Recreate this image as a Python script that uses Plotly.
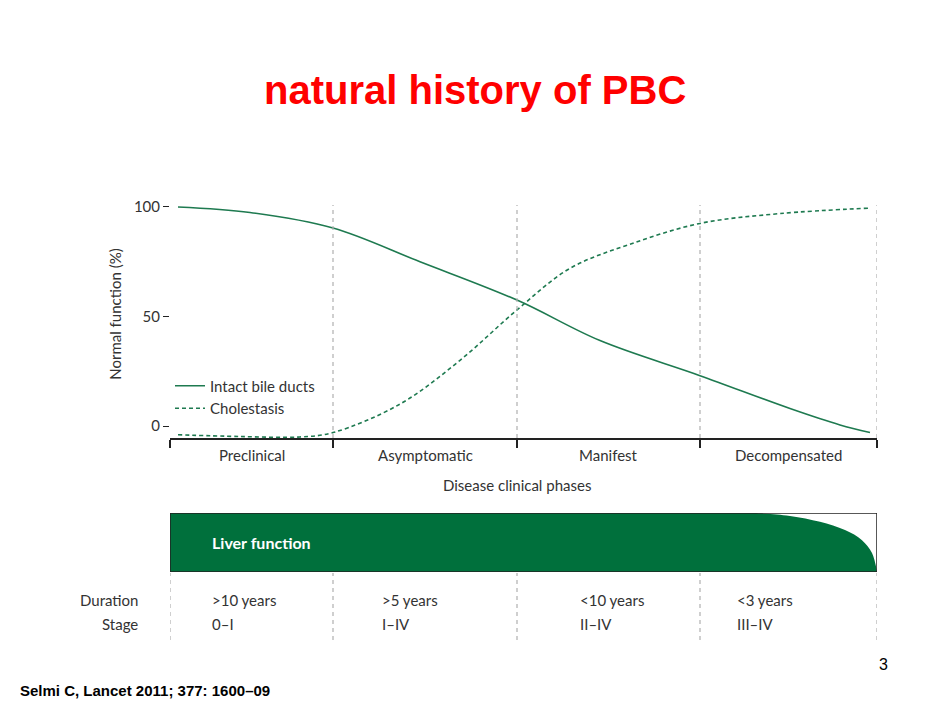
import plotly.graph_objects as go

phases = ["Preclinical", "Asymptomatic", "Manifest", "Decompensated"]
bounds = [0, 163, 347, 530, 707]
durations = [">10 years", ">5 years", "<10 years", "<3 years"]
stages = ["0–I", "I–IV", "II–IV", "III–IV"]
label_x = [40, 210, 408, 565]

intact_x = [8, 80, 163, 250, 347, 430, 530, 620, 670, 700]
intact_y = [100, 97.5, 90.4, 75, 57.5, 39, 23, 8, 0.5, -3]
chol_x = [8, 70, 130, 163, 230, 290, 347, 400, 460, 530, 610, 700]
chol_y = [-4, -4.8, -5, -3, 10, 30, 53, 72, 83, 92.5, 97, 99.5]
liver_x = [0, 583, 620, 650, 675, 692, 702, 707]
liver_y = [1, 1, 0.95, 0.85, 0.71, 0.54, 0.32, 0]

green = "#1e7a50"
dark = "#333333"
F = "Lato"
H = 382.0
OFF = 8  # page body margin

def py(p):
    return (572 - p) / H

def px(x):
    return (x - 170) / 707.0

fig = go.Figure()
fig.add_trace(go.Scatter(x=intact_x, y=intact_y, mode="lines", line=dict(color=green, width=1.6, shape="spline"),
                         name="Intact bile ducts", xaxis="x", yaxis="y"))
fig.add_trace(go.Scatter(x=chol_x, y=chol_y, mode="lines", line=dict(color=green, width=1.6, dash="4px,3px", shape="spline"),
                         name="Cholestasis", xaxis="x", yaxis="y"))
fig.add_trace(go.Scatter(x=liver_x, y=liver_y, mode="lines", fill="tozeroy", fillcolor="#00703c",
                         line=dict(color="#00703c", width=0, shape="spline"), showlegend=False, xaxis="x2", yaxis="y2"))

shapes = []
for b in bounds[1:]:
    shapes.append(dict(type="line", xref="x", yref="paper", x0=b, x1=b, y0=py(438), y1=py(205),
                       line=dict(color="#b0b0b0", width=1.2, dash="4px,4px")))
for b in bounds:
    shapes.append(dict(type="line", xref="x", yref="paper", x0=b, x1=b, y0=py(640), y1=py(573),
                       line=dict(color="#b0b0b0", width=1.2, dash="4px,4px")))
shapes.append(dict(type="rect", xref="x2", yref="y2", x0=0, x1=707, y0=0, y1=1, line=dict(color="#222", width=1.5)))

def A(x, y, text, xref="x", xa="center", size=15, color=dark, family=F):
    return dict(x=x, y=y, xref=xref, yref="paper", text=text, showarrow=False, xanchor=xa, yanchor="middle",
                font=dict(family=family, size=size, color=color))

ann = []
for i, p in enumerate(phases):
    ann.append(A((bounds[i] + bounds[i + 1]) / 2, py(455), p))
    ann.append(A(label_x[i], py(600), durations[i], xa="left"))
    ann.append(A(label_x[i], py(624), stages[i], xa="left"))
ann += [
    A(517 - 170, py(485), "Disease clinical phases"),
    A(px(140), py(600), "Duration", xref="paper", xa="right"),
    A(px(140), py(624), "Stage", xref="paper", xa="right"),
    A(40, py(542), "<b>Liver function</b>", xa="left", size=16, color="white"),
    A(px(475), py(90), "<b>natural history of PBC</b>", xref="paper", size=40, color="#ff0000", family="Liberation Sans"),
    A(px(890), py(664), "3", xref="paper", xa="right", size=16, color="#000", family="Liberation Sans"),
    A(px(18), py(690), "<b>Selmi C, Lancet 2011; 377: 1600–09</b>", xref="paper", xa="left", size=15, color="#000",
      family="Liberation Sans"),
]

fig.update_layout(
    width=950, height=713, margin=dict(l=170 - OFF, r=73 + OFF, t=190 - OFF, b=141 + OFF),
    paper_bgcolor="white", plot_bgcolor="white",
    xaxis=dict(domain=[0, 1], range=[0, 707], showgrid=False, zeroline=False, showline=True, linecolor="#222",
               linewidth=2, ticks="outside", ticklen=8, tickwidth=2, tickcolor="#222", tickvals=bounds,
               showticklabels=False, anchor="y"),
    yaxis=dict(domain=[py(438), 1], range=[-5.48, 107.76], showgrid=False, zeroline=False, showline=False,
               ticks="outside", ticklen=6, tickcolor="#222", tickvals=[0, 50, 100],
               tickfont=dict(family=F, size=15, color=dark),
               title=dict(text="Normal function (%)", font=dict(family=F, size=15, color=dark), standoff=8)),
    xaxis2=dict(domain=[0, 1], range=[0, 707], visible=False, anchor="y2"),
    yaxis2=dict(domain=[0, py(513)], range=[0, 1], visible=False, anchor="x2"),
    legend=dict(x=0.0, y=py(397), xanchor="left", yanchor="middle", bgcolor="rgba(0,0,0,0)",
                font=dict(family=F, size=15, color=dark), tracegroupgap=0),
    shapes=shapes, annotations=ann,
)
fig.write_html("out.html")
